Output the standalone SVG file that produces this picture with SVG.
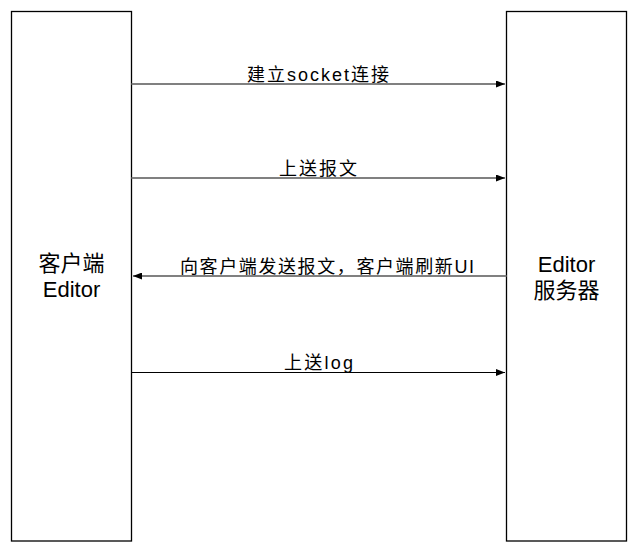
<svg xmlns="http://www.w3.org/2000/svg" width="638" height="552" viewBox="0 0 638 552">
<style>
.box{fill:#fff;stroke:#000;stroke-width:1.3}
.node{font-family:"Liberation Sans","Noto Sans CJK SC",sans-serif;font-size:22px;fill:#000;text-anchor:middle}
.lbl{font-family:"Liberation Sans","Noto Sans CJK SC",sans-serif;font-size:18px;fill:#000;text-anchor:middle}
.gl{stroke:#808080;stroke-width:2;fill:none}
.bl{stroke:#000;stroke-width:1.2;fill:none}
</style>
<defs>
<marker id="ah" markerWidth="9" markerHeight="7" refX="9" refY="3.5" orient="auto" markerUnits="userSpaceOnUse">
<path d="M0,0 L9,3.5 L0,7 Z" fill="#000"/>
</marker>
</defs>
<rect width="638" height="552" fill="#fff"/>
<g id="client">
<rect class="box" x="11.5" y="11.5" width="120" height="529.5"/>
<text class="node" x="71.5" y="271">客户端</text>
<text class="node" x="71.5" y="297">Editor</text>
</g>
<g id="server">
<rect class="box" x="506.5" y="11.5" width="120" height="529.5"/>
<text class="node" x="566.5" y="272">Editor</text>
<text class="node" x="566.5" y="298">服务器</text>
</g>
<g id="connectors">
<line class="gl" x1="131.5" y1="84" x2="505" y2="84" marker-end="url(#ah)"/>
<text class="lbl" x="318" y="81" textLength="142" lengthAdjust="spacing">建立socket连接</text>
<line class="gl" x1="131.5" y1="178" x2="505" y2="178" marker-end="url(#ah)"/>
<text class="lbl" x="318" y="175" textLength="78" lengthAdjust="spacing">上送报文</text>
<line class="gl" x1="506.5" y1="276" x2="133" y2="276" marker-end="url(#ah)"/>
<text class="lbl" x="327" y="273" textLength="294" lengthAdjust="spacing">向客户端发送报文，客户端刷新UI</text>
<line class="bl" x1="131.5" y1="372.5" x2="505" y2="372.5" marker-end="url(#ah)"/>
<text class="lbl" x="318.5" y="369" textLength="69" lengthAdjust="spacing">上送log</text>
</g>
</svg>
